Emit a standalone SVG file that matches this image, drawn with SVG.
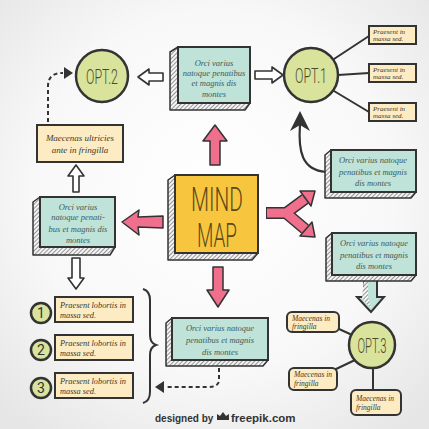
<svg xmlns="http://www.w3.org/2000/svg" width="429" height="429" viewBox="0 0 429 429">
<defs>
<radialGradient id="bg" cx="50%" cy="45%" r="70%">
<stop offset="0" stop-color="#ffffff"/>
<stop offset="0.6" stop-color="#f8f8f8"/>
<stop offset="1" stop-color="#e6e6e6"/>
</radialGradient>
<pattern id="hatch" width="3" height="3" patternUnits="userSpaceOnUse" patternTransform="rotate(45)">
<rect width="3" height="3" fill="#f4f4f4"/>
<line x1="0" y1="0" x2="0" y2="3" stroke="#555" stroke-width="1.2"/>
</pattern>
</defs>
<style>
.side{fill:url(#hatch);stroke:#333;stroke-width:1.5;stroke-linejoin:round}
.teal{fill:#bfe2d9;stroke:#333;stroke-width:2}
.note{fill:#fcebc3;stroke:#333;stroke-width:2}
.circ{fill:#d9e39c;stroke:#333;stroke-width:2.5}
.pink{fill:#ef6f8d;stroke:#333;stroke-width:1.5;stroke-linejoin:round}
.hollow{fill:#fff;stroke:#333;stroke-width:1.6;stroke-linejoin:round}
.line{fill:none;stroke:#333;stroke-width:2;stroke-linecap:round}
.dash{fill:none;stroke:#333;stroke-width:2;stroke-dasharray:4 3}
.ht{font-family:"Liberation Serif",serif;font-style:italic;font-size:8.5px;fill:#3d5c5a;text-anchor:middle}
.hn{font-family:"Liberation Serif",serif;font-style:italic;fill:#3a3a2a}
.s7{font-size:7px}
.s75{font-size:7.5px}
.s85{font-size:8.3px}
.s9{font-size:9px}
.opt{font-family:Roboto,"Liberation Sans",sans-serif;font-weight:300;font-size:21px;fill:#4a4a2a;text-anchor:middle}
.big{font-family:Roboto,"Liberation Sans",sans-serif;font-weight:300;font-size:33px;fill:#5a4a1a;text-anchor:middle}
.num{font-family:Roboto,"Liberation Sans",sans-serif;font-size:14px;fill:#333;text-anchor:middle}
</style>
<rect width="429" height="429" fill="url(#bg)"/>

<g id="connectors">
<polygon class="hollow" points="138,77 149,69 149,73 163,73 163,81 149,81 149,85"/>
<polygon class="hollow" points="283,75 272,67 272,71 255,71 255,79 272,79 272,83"/>
<polygon class="hollow" points="76,165 68,176 73,176 73,192 79,192 79,176 84,176"/>
<polygon class="hollow" points="76,289 68,278 72,278 72,258 80,258 80,278 84,278"/>
<path class="dash" d="M48,122 L48,86 Q48,73 63,73"/>
<polygon points="64,67 73,73 64,79" fill="#333"/>
<path class="dash" d="M219,368 L219,380 Q219,387 208,387 L165,387"/>
<polygon points="164,381 155,387 164,393" fill="#333"/>
<line class="line" x1="334" y1="59" x2="369" y2="36"/>
<line class="line" x1="338" y1="75" x2="369" y2="73"/>
<line class="line" x1="334" y1="91" x2="369" y2="112"/>
<path d="M326,172 C302,170 298,152 300,124" fill="none" stroke="#333" stroke-width="2.2"/>
<polygon points="300,111 310,131 300,125 290,131" fill="#333"/>
<line class="line" x1="339" y1="329" x2="350" y2="334"/>
<line class="line" x1="334" y1="370" x2="355" y2="360"/>
<line class="line" x1="373" y1="390" x2="373" y2="368"/>
<path d="M143,289 Q150,291 150,300 L150,335 Q150,343 156,345 Q150,347 150,355 L150,392 Q150,401 143,403" fill="none" stroke="#333" stroke-width="2"/>
<polygon class="pink" points="215,125 227,141 220,141 220,165 210,165 210,141 203,141"/>
<polygon class="pink" points="122,222 139,210 138,217 163,216 163,228 138,227 139,235"/>
<polygon class="pink" points="218,307 229,290 223,290 223,267 213,267 213,290 207,290"/>
<path d="M266,213 L286,213 L305,199 M286,213 L305,229" fill="none" stroke="#333" stroke-width="12" stroke-linejoin="round"/>
<path d="M267,213 L286,213 L305,199 M286,213 L305,229" fill="none" stroke="#ef6f8d" stroke-width="9" stroke-linejoin="round"/>
<polygon class="pink" points="315,191 311,206 300,191"/>
<polygon class="pink" points="315,237 300,236 312,222"/>
<polygon class="teal" points="364,277 377,277 377,297 384,297 371,312 357,297 364,297" stroke-width="1.6"/>
<polygon points="364,278 368,278 368,297 371,308 362,298" fill="url(#hatch)"/>
</g>

<g id="box-top">
<polygon class="side" points="178,47 170,52 170,110 245,110 250,103"/>
<rect class="teal" x="178" y="47" width="72" height="56"/>
<text class="ht" x="214" y="66">Orci varius</text>
<text class="ht" x="214" y="76">natoque penatibus</text>
<text class="ht" x="214" y="86">et magnis dis</text>
<text class="ht" x="214" y="97">montes</text>
</g>

<g id="opt2">
<circle class="circ" cx="102" cy="76" r="26"/>
<text class="opt" x="102" y="84" textLength="32" lengthAdjust="spacingAndGlyphs">OPT.2</text>
</g>

<g id="opt1">
<circle class="circ" cx="311" cy="75" r="27"/>
<text class="opt" x="311" y="83" textLength="32" lengthAdjust="spacingAndGlyphs">OPT.1</text>
</g>

<g id="praesent-1">
<rect class="note" x="369" y="26" width="47" height="18" stroke-width="1.6"/>
<text class="hn s7" x="373" y="34">Praesent in</text>
<text class="hn s7" x="373" y="41">massa sed.</text>
</g>
<g id="praesent-2">
<rect class="note" x="369" y="64" width="47" height="18" stroke-width="1.6"/>
<text class="hn s7" x="373" y="72">Praesent in</text>
<text class="hn s7" x="373" y="79">massa sed.</text>
</g>
<g id="praesent-3">
<rect class="note" x="369" y="103" width="47" height="18" stroke-width="1.6"/>
<text class="hn s7" x="373" y="111">Praesent in</text>
<text class="hn s7" x="373" y="118">massa sed.</text>
</g>

<g id="maecenas-ultricies">
<rect class="note" x="37" y="125" width="86" height="37"/>
<text class="hn s9" x="80" y="141" text-anchor="middle">Maecenas ultricies</text>
<text class="hn s9" x="80" y="153" text-anchor="middle">ante in fringilla</text>
</g>

<g id="mind-map">
<polygon class="side" points="175,175 168,180 168,260 252,260 258,253"/>
<rect x="175" y="175" width="83" height="78" fill="#f8c63e" stroke="#333" stroke-width="2"/>
<text class="big" x="217" y="211" textLength="52" lengthAdjust="spacingAndGlyphs">MIND</text>
<text class="big" x="217" y="247" textLength="40" lengthAdjust="spacingAndGlyphs">MAP</text>
</g>

<g id="box-left">
<polygon class="side" points="40,197 33,202 33,255 110,255 115,247"/>
<rect class="teal" x="40" y="197" width="75" height="50"/>
<text class="ht" x="78" y="210">Orci varius</text>
<text class="ht" x="78" y="220">natoque penati-</text>
<text class="ht" x="78" y="232">bus et magnis dis</text>
<text class="ht" x="78" y="243">montes</text>
</g>

<g id="box-right-1">
<polygon class="side" points="331,150 325,155 325,198 411,198 416,192"/>
<rect class="teal" x="331" y="150" width="85" height="42"/>
<text class="ht" x="373" y="163">Orci varius natoque</text>
<text class="ht" x="373" y="175">penatibus et magnis</text>
<text class="ht" x="373" y="186">dis montes</text>
</g>

<g id="box-right-2">
<polygon class="side" points="332,233 326,238 326,281 411,281 416,275"/>
<rect class="teal" x="332" y="233" width="84" height="42"/>
<text class="ht" x="374" y="246">Orci varius natoque</text>
<text class="ht" x="374" y="258">penatibus et magnis</text>
<text class="ht" x="374" y="269">dis montes</text>
</g>

<g id="box-bottom">
<polygon class="side" points="172,318 166,323 166,366 263,366 268,360"/>
<rect class="teal" x="172" y="318" width="96" height="42"/>
<text class="ht" x="220" y="331">Orci varius natoque</text>
<text class="ht" x="220" y="343">penatibus et magnis</text>
<text class="ht" x="220" y="355">dis montes</text>
</g>

<g id="item-1">
<circle class="circ" cx="41" cy="313" r="10" stroke-width="2.2" fill="#dde6ad"/>
<text class="num" x="41" y="318">1</text>
<rect class="note" x="55" y="297" width="78" height="25"/>
<text class="hn s85" x="60" y="308">Praesent lobortis in</text>
<text class="hn s85" x="60" y="318">massa sed.</text>
</g>
<g id="item-2">
<circle class="circ" cx="41" cy="350" r="10" stroke-width="2.2" fill="#dde6ad"/>
<text class="num" x="41" y="355">2</text>
<rect class="note" x="55" y="335" width="78" height="25"/>
<text class="hn s85" x="60" y="346">Praesent lobortis in</text>
<text class="hn s85" x="60" y="356">massa sed.</text>
</g>
<g id="item-3">
<circle class="circ" cx="41" cy="388" r="10" stroke-width="2.2" fill="#dde6ad"/>
<text class="num" x="41" y="393">3</text>
<rect class="note" x="55" y="373" width="78" height="25"/>
<text class="hn s85" x="60" y="384">Praesent lobortis in</text>
<text class="hn s85" x="60" y="394">massa sed.</text>
</g>

<g id="opt3">
<circle class="circ" cx="372" cy="345" r="23"/>
<text class="opt" x="372" y="353" textLength="29" lengthAdjust="spacingAndGlyphs">OPT.3</text>
</g>
<g id="maecenas-a">
<rect class="note" x="287" y="312" width="52" height="20" rx="5"/>
<text class="hn s75" x="292" y="321">Maecenas in</text>
<text class="hn s75" x="292" y="329">fringilla</text>
</g>
<g id="maecenas-b">
<rect class="note" x="289" y="368" width="48" height="22" rx="5"/>
<text class="hn s75" x="294" y="377">Maecenas in</text>
<text class="hn s75" x="294" y="386">fringilla</text>
</g>
<g id="maecenas-c">
<rect class="note" x="351" y="390" width="50" height="25" rx="5"/>
<text class="hn s75" x="356" y="401">Maecenas in</text>
<text class="hn s75" x="356" y="410">fringilla</text>
</g>

<g id="footer">
<text x="155" y="422" font-family="Liberation Sans,sans-serif" font-weight="bold" font-size="10" fill="#333">designed by</text>
<path d="M217,420 L217,414 L220,416 L223,412 L226,416 L229,414 L229,420 Z" fill="#333"/>
<text x="231" y="422" font-family="Liberation Sans,sans-serif" font-weight="bold" font-size="11.5" fill="#333">freepik.com</text>
</g>
</svg>
